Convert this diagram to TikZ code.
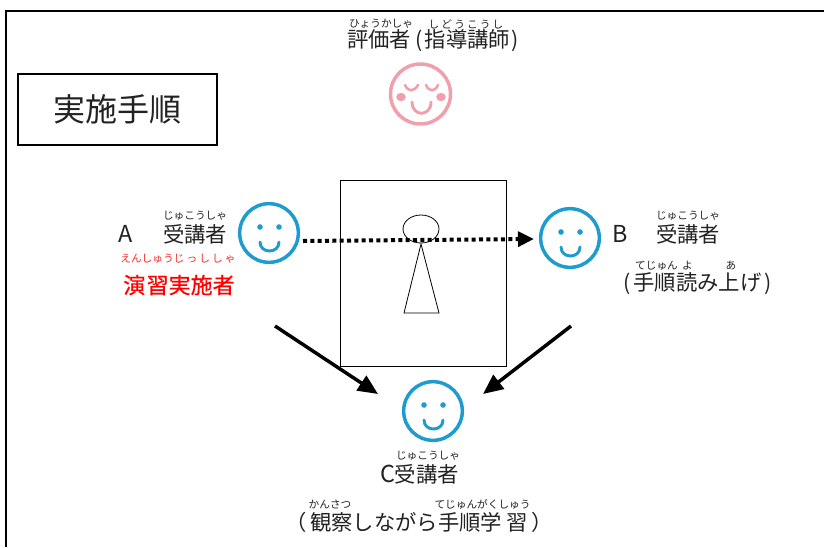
\documentclass[tikz,border=0pt]{standalone}
\usepackage{fontspec}
\setmainfont{Noto Sans CJK JP}
\newfontfamily\semibold{Noto Sans CJK JP}[FakeBold=0.7]
\usetikzlibrary{arrows.meta,shapes.geometric}
\definecolor{faceblue}{HTML}{1E9BCF}
\definecolor{facepink}{HTML}{F0A0AC}
\definecolor{tx}{HTML}{222222}
\newcommand{\biglatin}[1]{{\fontsize{17.5}{18}\selectfont #1}}
\tikzset{
  x=0.75pt,y=-0.75pt,
  base/.style={inner sep=0pt,outer sep=0pt,text=tx,font=\fontsize{16}{16}\selectfont,anchor=center},
  ruby/.style={inner sep=0pt,outer sep=0pt,text=tx,font=\fontsize{8}{8}\selectfont,anchor=center},
  thinbox/.style={draw=black,line width=0.75pt},
  flow/.style={line width=2.6pt,-{Triangle[length=15pt,width=13pt]}},
  dotflow/.style={line width=3pt,dash pattern=on 3pt off 2.5pt,-{Triangle[length=12pt,width=11pt]}},
  bluehead/.style={draw=faceblue,line width=2.6pt,circle,minimum size=44pt,inner sep=0pt},
  pinkhead/.style={draw=facepink,line width=2.6pt,circle,minimum size=45pt,inner sep=0pt},
}
\newcommand{\smileface}[2]{%
  \fill[faceblue] (#1-9,#2-6) circle (2.8);
  \fill[faceblue] (#1+10,#2-6) circle (2.8);
  \draw[faceblue,line width=2.2pt,line cap=round] (#1-9,#2+9) .. controls (#1-9,#2+21) and (#1+10,#2+21) .. (#1+10,#2+9);
}
\begin{document}
\begin{tikzpicture}
\useasboundingbox (0,0) rectangle (824,547);
\fill[white] (0,0) rectangle (824,547);
% frame
\draw[black,line width=1.5pt] (6,547) -- (6,11) -- (824,11);
% title box
\node[base,thinbox,line width=1.1pt,minimum width=149.25pt,minimum height=53.5pt,font=\fontsize{24}{24}\selectfont] (title) at (117.5,109.5) {実施手順};
% centre board and figure
\node[thinbox,minimum width=125pt,minimum height=140pt,inner sep=0pt] (board) at (423.5,273.5) {};
\node[draw=black,line width=0.6pt,ellipse,minimum width=27pt,minimum height=21pt,inner sep=0pt] (fighead) at (421,229) {};
\coordinate (ftop) at (421,244);
\coordinate (fl) at (404,313);
\coordinate (fr) at (439,313);
\draw[black,line width=0.6pt] (ftop) -- (fr) -- (fl) -- cycle;
% evaluator
\node[ruby] (evalruby) at (381,24) {ひょうかしゃ};
\node[ruby] (evalruby2) at (466,24) {し\hspace{0.2em}ど\hspace{0.2em}う\hspace{0.2em}こ\hspace{0.2em}う\hspace{0.2em}し};
\node[base] (evaltext) at (433,41) {評価者\kern3pt(\kern2pt指導講師\kern1pt)};
\node[pinkhead] (evalface) at (420.5,94) {};
\fill[facepink] (401,97) ellipse (4.8 and 4.2);
\fill[facepink] (441,97) ellipse (4.8 and 4.2);
\draw[facepink,line width=1.9pt,line cap=round] (405,85) .. controls (408,92) and (414,92) .. (418,85);
\draw[facepink,line width=1.9pt,line cap=round] (426,85) .. controls (429,92) and (435,92) .. (438,85);
\draw[facepink,line width=2.2pt,line cap=round] (412,102) .. controls (412,117) and (431,117) .. (431,102);
% A
\node[bluehead] (faceA) at (269,233) {};
\smileface{269}{233}
\node[base] (letterA) at (126,234) {\biglatin{A}};
\node[ruby] (rubyA) at (195,216) {じゅこうしゃ};
\node[base] (textA) at (195,234) {受講者};
\node[ruby,text=red!85!white] (rubyAr) at (178,259) {えんしゅうじ\hspace{0.2em}っ\hspace{0.2em}し\hspace{0.2em}し\hspace{0.2em}ゃ};
\node[base,text=red,font=\fontsize{16.5}{16}\semibold] (textAr) at (179,285) {演\kern1pt習実施者};
% B
\node[bluehead] (faceB) at (570,238) {};
\smileface{570}{238}
\node[base] (letterB) at (620,234) {\biglatin{B}};
\node[ruby] (rubyB) at (688,216) {じゅこうしゃ};
\node[base] (textB) at (688,234) {受講者};
\node[ruby] (rubyB2) at (664,266) {てじゅん\hspace{0.4em}よ};
\node[ruby] (rubyB3) at (731,266) {あ};
\node[base] (textB2) at (697.5,284) {(\kern2pt手順読み上げ\kern2pt)};
% C
\node[bluehead] (faceC) at (433,411) {};
\smileface{433}{411}
\node[ruby] (rubyC) at (428,456) {じゅこうしゃ};
\node[base] (textC) at (419.5,474) {\biglatin{C}受講者};
\node[ruby] (rubyC2) at (330,504) {かんさつ};
\node[ruby] (rubyC3) at (482.5,504) {てじゅんがくしゅう};
\node[base] (textC2) at (419,522) {（\kern2.5pt観察しながら手順学\kern3pt習\kern2.5pt）};
% connectors
\coordinate (startAB) at (303,241);
\coordinate (endAB) at (534,239);
\coordinate (startAC) at (275,326);
\coordinate (endAC) at (378,394);
\coordinate (startBC) at (571,326);
\coordinate (endBC) at (483,394);
\draw[dotflow] (startAB) -- (endAB);
\draw[flow] (startAC) -- (endAC);
\draw[flow] (startBC) -- (endBC);
\end{tikzpicture}
\end{document}
